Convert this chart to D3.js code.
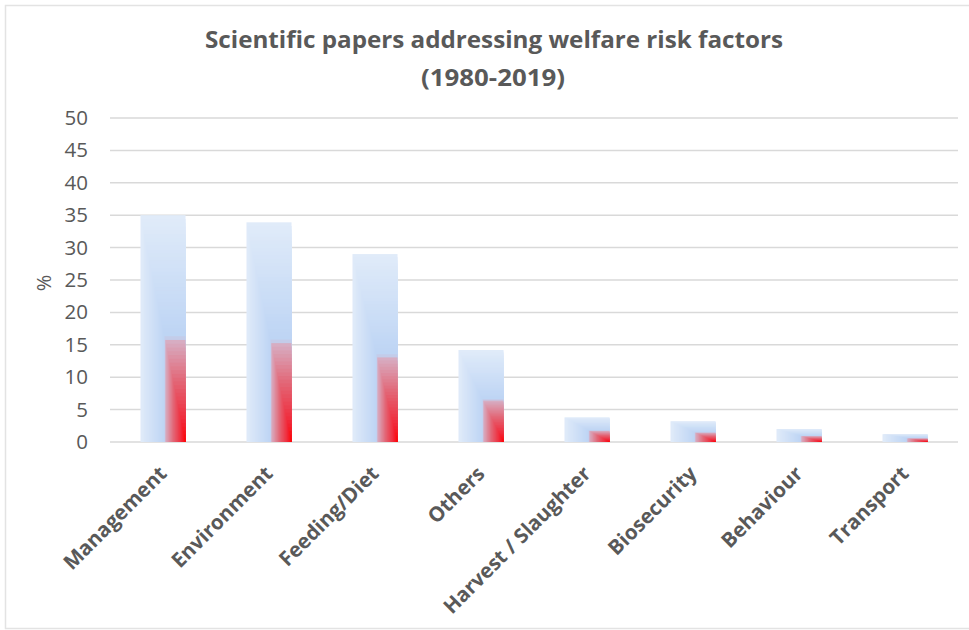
<!DOCTYPE html>
<html>
<head>
<meta charset="utf-8">
<script src="https://cdn.jsdelivr.net/npm/d3@7"></script>
<style>
  html, body { margin: 0; padding: 0; background: #fff; }
  svg { display: block; font-family: "Open Sans", "Noto Sans", sans-serif; }
</style>
</head>
<body>
<svg id="chart" width="969" height="630"></svg>
<script>
// Share of scientific papers per welfare risk factor (%)
const categories = ["Management", "Environment", "Feeding/Diet", "Others",
                    "Harvest / Slaughter", "Biosecurity", "Behaviour", "Transport"];
const values = [35.0, 33.9, 29.0, 14.2, 3.8, 3.2, 2.0, 1.2];
const yTicks = [0, 5, 10, 15, 20, 25, 30, 35, 40, 45, 50];
const titleLines = ["Scientific papers addressing welfare risk factors", "(1980-2019)"];
const yLabel = "%";

const svg = d3.select("#chart");
const W = 969, H = 630;
const plot = { left: 110, right: 958, top: 118, bottom: 442 };
const textColor = "#595959";
const gridColor = "#d9d9d9";

// Outer chart frame
svg.append("rect")
  .attr("x", 5.5).attr("y", 5.5)
  .attr("width", W + 10).attr("height", H - 7)
  .attr("fill", "none").attr("stroke", "#e3e3e3").attr("stroke-width", 1.5);

// Title
const title = svg.append("text")
  .attr("text-anchor", "middle")
  .attr("fill", textColor)
  .attr("font-weight", 700)
  .attr("font-size", 24);
title.append("tspan").attr("x", 494).attr("y", 48)
  .attr("textLength", 578).attr("lengthAdjust", "spacingAndGlyphs")
  .text(titleLines[0]);
title.append("tspan").attr("x", 493).attr("y", 86)
  .attr("textLength", 144).attr("lengthAdjust", "spacingAndGlyphs")
  .text(titleLines[1]);

// Scales
const x = d3.scaleBand()
  .domain(categories)
  .range([plot.left, plot.right])
  .paddingInner(0.575)
  .paddingOuter(0.2875);
const y = d3.scaleLinear().domain([0, 50]).range([plot.bottom, plot.top]);

// Horizontal gridlines
svg.append("g")
  .selectAll("line")
  .data(yTicks)
  .join("line")
  .attr("x1", plot.left).attr("x2", plot.right)
  .attr("y1", d => y(d)).attr("y2", d => y(d))
  .attr("stroke", gridColor).attr("stroke-width", 1.5);

// Y axis labels
const yAxis = svg.append("g")
  .attr("transform", `translate(${plot.left - 22},0)`)
  .call(d3.axisLeft(y).tickValues(yTicks).tickSize(0).tickPadding(0));
yAxis.select(".domain").remove();
yAxis.selectAll("text")
  .attr("fill", textColor)
  .attr("font-size", 20.5)
  .attr("font-family", "'Open Sans', 'Noto Sans', sans-serif");

// Y axis title
svg.append("text")
  .attr("transform", `translate(51,${(plot.top + plot.bottom) / 2 + 3}) rotate(-90)`)
  .attr("text-anchor", "middle")
  .attr("fill", textColor)
  .attr("font-size", 20)
  .text(yLabel);

// Rectangular gradient radiating from each bar's bottom-right corner
const shade = d3.scaleLinear()
  .domain([0, 0.1, 0.28, 0.455, 0.47, 1])
  .range(["#ff0000", "#f12838", "#e26878", "#d7afc4", "#bdd4f4", "#e0ebf9"])
  .interpolate(d3.interpolateRgb);
const steps = d3.range(60, 0, -1).map(i => i / 60);

const bars = svg.append("g")
  .selectAll("g")
  .data(categories.map((c, i) => ({ c, v: values[i] })))
  .join("g");

bars.each(function(d) {
  const x0 = x(d.c), w = x.bandwidth();
  const y0 = y(d.v), h = y(0) - y(d.v);
  d3.select(this).selectAll("rect")
    .data(steps)
    .join("rect")
    .attr("x", t => x0 + w * (1 - t))
    .attr("y", t => y0 + h * (1 - t))
    .attr("width", t => w * t)
    .attr("height", t => h * t)
    .attr("fill", t => shade(t));
});

// Category labels, rotated
svg.append("g")
  .selectAll("text")
  .data(categories)
  .join("text")
  .attr("transform", d => `translate(${x(d) + x.bandwidth() / 2 + 5},${plot.bottom + 33}) rotate(-45)`)
  .attr("text-anchor", "end")
  .attr("fill", textColor)
  .attr("font-weight", 700)
  .attr("font-size", 20.5)
  .text(d => d);
</script>
</body>
</html>
